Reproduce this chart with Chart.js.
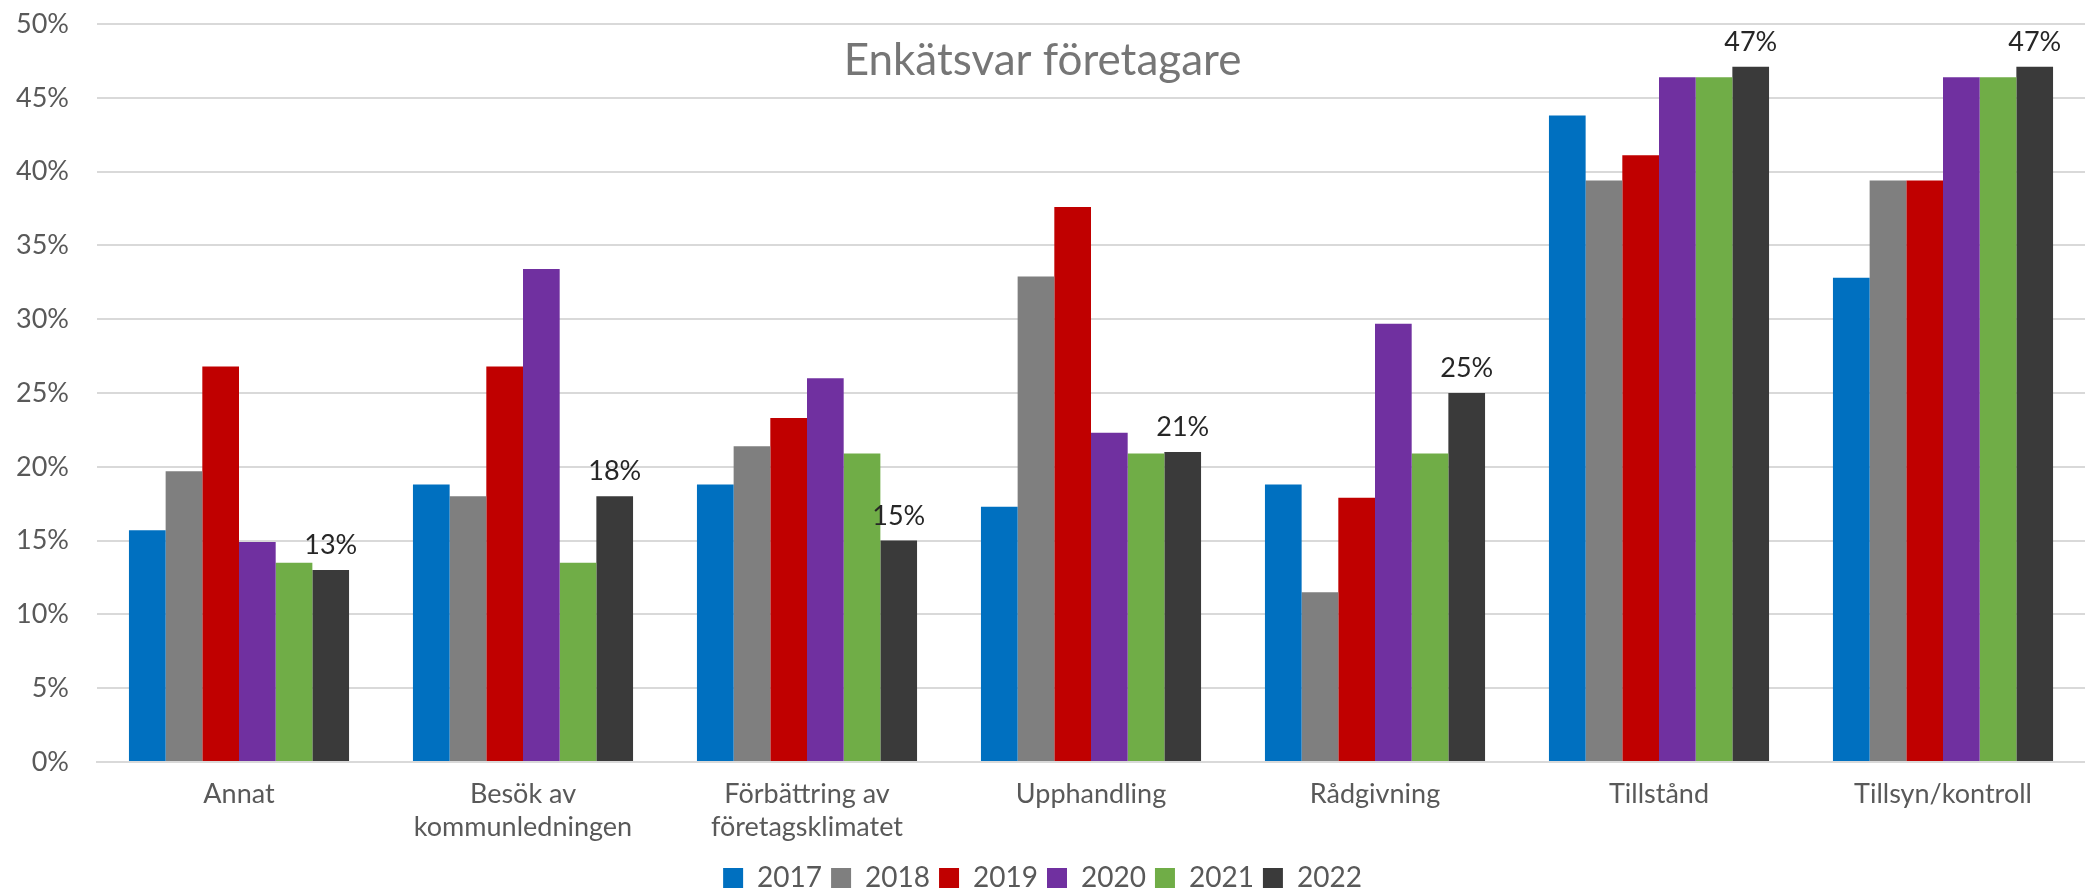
<!DOCTYPE html>
<html>
<head>
<meta charset="utf-8">
<script src="https://cdn.jsdelivr.net/npm/chart.js@4"></script>
<style>
  html, body { margin: 0; padding: 0; background: #ffffff; }
  #wrap { width: 2085px; height: 892px; }
</style>
</head>
<body>
<div id="wrap"><canvas id="chart" width="2085" height="892"></canvas></div>
<script>
// ===== Enkätsvar företagare =====
const categories = [
    "Annat",
    ["Besök av", "kommunledningen"],
    ["Förbättring av", "företagsklimatet"],
    "Upphandling",
    "Rådgivning",
    "Tillstånd",
    "Tillsyn/kontroll"
];
const years = ["2017", "2018", "2019", "2020", "2021", "2022"];

// values in percent
const v2017 = [15.7, 18.8, 18.8, 17.3, 18.8, 43.8, 32.8];
const v2018 = [19.7, 18.0, 21.4, 32.9, 11.5, 39.4, 39.4];
const v2019 = [26.8, 26.8, 23.3, 37.6, 17.9, 41.1, 39.4];
const v2020 = [14.9, 33.4, 26.0, 22.3, 29.7, 46.4, 46.4];
const v2021 = [13.5, 13.5, 20.9, 20.9, 20.9, 46.4, 46.4];
const v2022 = [13.0, 18.0, 15.0, 21.0, 25.0, 47.1, 47.1];

const yTicks = [0, 5, 10, 15, 20, 25, 30, 35, 40, 45, 50];

const colors = ["#0070C0", "#7F7F7F", "#C00000", "#7030A0", "#70AD47", "#3A3A3A"];
const seriesValues = [v2017, v2018, v2019, v2020, v2021, v2022];

const FONT = "Lato";

// labels on the 2022 bars + the title drawn inside the plot
const labelPlugin = {
    id: "lastSeriesLabels",
    afterDatasetsDraw(chart) {
        const c = chart.ctx;
        const meta = chart.getDatasetMeta(5);
        c.save();
        c.fillStyle = "#262626";
        c.font = "27px " + FONT;
        c.textAlign = "center";
        c.textBaseline = "alphabetic";
        meta.data.forEach((bar, i) => {
            c.fillText(Math.round(v2022[i]) + "%", bar.x, bar.y - 16);
        });
        c.fillStyle = "#767676";
        c.font = "44px " + FONT;
        c.textBaseline = "middle";
        c.fillText("Enkätsvar företagare", chart.width / 2, 61);
        c.restore();
    }
};

const ctx = document.getElementById("chart").getContext("2d");
const chart = new Chart(ctx, {
    type: "bar",
    data: {
        labels: categories,
        datasets: years.map((y, i) => ({
            label: y,
            data: seriesValues[i],
            backgroundColor: colors[i],
            borderWidth: 0,
            categoryPercentage: 0.775,
            barPercentage: 1.0
        }))
    },
    options: {
        responsive: false,
        animation: false,
        layout: { padding: { top: 24, right: 0, left: 0, bottom: 2 } },
        plugins: {
            title: { display: false },
            tooltip: { enabled: false },
            legend: {
                position: "bottom",
                maxHeight: 35,
                labels: {
                    color: "#595959",
                    font: { family: FONT, size: 28 },
                    boxWidth: 20,
                    boxHeight: 20,
                    padding: 9
                }
            }
        },
        scales: {
            x: {
                grid: { display: false },
                border: { display: true, color: "#D9D9D9", width: 2 },
                ticks: {
                    color: "#595959",
                    font: { family: FONT, size: 27, lineHeight: 1.22 },
                    padding: 8,
                    maxRotation: 0,
                    autoSkip: false
                },
                afterFit(scale) { scale.height = 93; }
            },
            y: {
                min: 0,
                max: 50,
                afterBuildTicks(scale) { scale.ticks = yTicks.map(v => ({ value: v })); },
                grid: { color: "#D9D9D9", lineWidth: 2, drawTicks: false },
                border: { display: false },
                ticks: {
                    color: "#595959",
                    font: { family: FONT, size: 27 },
                    padding: 28,
                    callback: v => v + "%"
                },
                afterFit(scale) {
                    scale.width = 97;
                    scale.paddingTop = 0;
                    scale.paddingBottom = 0;
                }
            }
        }
    },
    plugins: [labelPlugin]
});
</script>
</body>
</html>
